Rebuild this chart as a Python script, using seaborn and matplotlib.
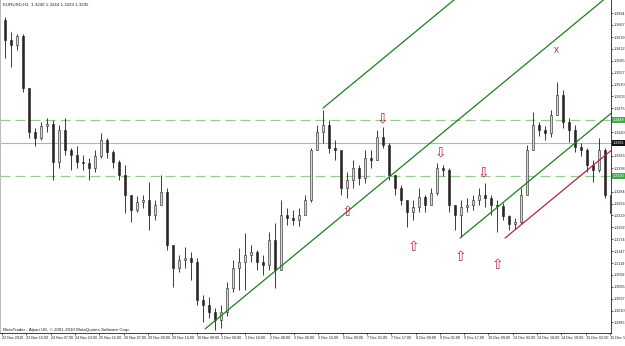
import numpy as np
import pandas as pd
import seaborn as sns
import matplotlib.pyplot as plt
import matplotlib.transforms as mtransforms

# EURUSD H1, every 4 hours
closes = [1.3633, 1.3621, 1.3642, 1.3522, 1.3421, 1.3407, 1.3435, 1.3439, 1.3352, 1.3426,
          1.3380, 1.3368, 1.3352, 1.3350, 1.3338, 1.3366, 1.3403, 1.3375, 1.3352, 1.3322,
          1.3276, 1.3242, 1.3260, 1.3265, 1.3230, 1.3253, 1.3283, 1.3161, 1.3108, 1.3127,
          1.3131, 1.3122, 1.3035, 1.3023, 1.3007, 1.2989, 1.3007, 1.3062, 1.3108, 1.3122,
          1.3138, 1.3145, 1.3122, 1.3115, 1.3173, 1.3104, 1.3230, 1.3223, 1.3219, 1.3230,
          1.3265, 1.3380, 1.3421, 1.3437, 1.3384, 1.3380, 1.3292, 1.3311, 1.3338, 1.3315,
          1.3361, 1.3357, 1.3409, 1.3391, 1.3322, 1.3292, 1.3265, 1.3237, 1.3248, 1.3271,
          1.3253, 1.3281, 1.3338, 1.3334, 1.3253, 1.3230, 1.3248, 1.3253, 1.3265, 1.3276,
          1.3269, 1.3253, 1.3251, 1.3228, 1.3209, 1.3214, 1.3276, 1.3380, 1.3437, 1.3426,
          1.3419, 1.3460, 1.3506, 1.3444, 1.3426, 1.3386, 1.3380, 1.3345, 1.3334, 1.3380,
          1.3276, 1.3235]
highs = [1.3685, 1.3651, 1.3646, 1.3646, 1.3522, 1.3430, 1.3444, 1.3453, 1.3449, 1.3437,
         1.3453, 1.3384, 1.3389, 1.3368, 1.3361, 1.3380, 1.3419, 1.3407, 1.3380, 1.3357,
         1.3345, 1.3276, 1.3274, 1.3276, 1.3306, 1.3265, 1.3322, 1.3292, 1.3161, 1.3138,
         1.3156, 1.3145, 1.3131, 1.3046, 1.3041, 1.3016, 1.3023, 1.3076, 1.3127, 1.3154,
         1.3189, 1.3161, 1.3150, 1.3138, 1.3191, 1.3212, 1.3265, 1.3246, 1.3242, 1.3246,
         1.3276, 1.3384, 1.3437, 1.3472, 1.3449, 1.3403, 1.3380, 1.3329, 1.3357, 1.3345,
         1.3380, 1.3380, 1.3426, 1.3432, 1.3396, 1.3322, 1.3299, 1.3265, 1.3265, 1.3292,
         1.3276, 1.3292, 1.3350, 1.3345, 1.3338, 1.3253, 1.3265, 1.3269, 1.3276, 1.3292,
         1.3304, 1.3276, 1.3265, 1.3258, 1.3230, 1.3223, 1.3292, 1.3391, 1.3467, 1.3444,
         1.3435, 1.3472, 1.3536, 1.3518, 1.3453, 1.3437, 1.3396, 1.3384, 1.3357, 1.3407,
         1.3384, 1.3288]
lows = [1.3591, 1.3570, 1.3610, 1.3513, 1.3407, 1.3389, 1.3403, 1.3421, 1.3311, 1.3338,
        1.3368, 1.3334, 1.3338, 1.3334, 1.3311, 1.3329, 1.3361, 1.3361, 1.3338, 1.3311,
        1.3235, 1.3214, 1.3237, 1.3246, 1.3196, 1.3219, 1.3253, 1.3150, 1.3064, 1.3099,
        1.3108, 1.3081, 1.3023, 1.2984, 1.2993, 1.2966, 1.2970, 1.2998, 1.3053, 1.3058,
        1.3058, 1.3122, 1.3104, 1.3092, 1.3104, 1.3062, 1.3104, 1.3207, 1.3207, 1.3205,
        1.3230, 1.3260, 1.3380, 1.3396, 1.3373, 1.3357, 1.3276, 1.3269, 1.3292, 1.3299,
        1.3304, 1.3338, 1.3357, 1.3384, 1.3311, 1.3276, 1.3253, 1.3202, 1.3219, 1.3237,
        1.3237, 1.3253, 1.3276, 1.3320, 1.3237, 1.3196, 1.3179, 1.3237, 1.3242, 1.3253,
        1.3248, 1.3230, 1.3191, 1.3219, 1.3196, 1.3198, 1.3209, 1.3276, 1.3380, 1.3412,
        1.3403, 1.3409, 1.3460, 1.3430, 1.3398, 1.3375, 1.3366, 1.3329, 1.3306, 1.3329,
        1.3269, 1.3228]
first_open = 1.3679

time_labels = ["22 Nov 2010", "23 Nov 15:00", "24 Nov 07:00", "24 Nov 23:00", "25 Nov 15:00",
               "26 Nov 07:00", "29 Nov 00:00", "29 Nov 16:00", "30 Nov 08:00", "1 Dec 00:00",
               "1 Dec 16:00", "2 Dec 08:00", "3 Dec 00:00", "3 Dec 16:00", "6 Dec 09:00",
               "7 Dec 01:00", "7 Dec 17:00", "8 Dec 09:00", "9 Dec 01:00", "9 Dec 17:00",
               "10 Dec 09:00", "13 Dec 02:00", "13 Dec 18:00", "14 Dec 10:00", "15 Dec 02:00",
               "15 Dec 18:00"]
# scale values that are not hidden behind the price boxes
price_ticks = [1.3694, 1.3667, 1.3639, 1.3612, 1.3585, 1.3557, 1.3530, 1.3503, 1.3475,
               1.3420, 1.3366, 1.3338, 1.3284, 1.3256, 1.3229, 1.3202, 1.3174,
               1.3147, 1.3119, 1.3092, 1.3065, 1.3037, 1.3010, 1.2983]

green_levels = [1.3449, 1.3320]
grey_level = 1.3395

# channel lines (start time in hours, start price), all parallel
slope_t = [133.6, 204.6]
slope_p = [1.2968, 1.3173]
green_start_t = [133.6, 211.2, 301.3]
green_start_p = [1.2968, 1.3476, 1.3177]
red_start_t = 330.9
red_start_p = 1.3177

down_arrow_t = [250.0, 288.2, 316.4]
down_arrow_p = [1.3451, 1.3375, 1.3327]
up_arrow_t = [227.0, 270.4, 301.3, 325.7]
up_arrow_p = [1.3237, 1.3156, 1.3133, 1.3115]
cross_t, cross_p = 364.5, 1.3610

sns.set_theme(style="white")
plt.rcParams['font.family'] = ['Liberation Sans', 'DejaVu Sans']

fig = plt.figure(figsize=(6.25, 3.46), dpi=100)
ax = fig.add_axes([0, 13 / 346, 611 / 625, 333 / 346])
x_min, x_max = -1.32, 400.6
ax.set_xlim(x_min, x_max)
ax.set_ylim(1.29586, 1.37245)

n = len(closes)
df = pd.DataFrame({"open": [first_open] + closes[:-1], "high": highs,
                   "low": lows, "close": closes})
df["t"] = (3 + 6 * np.arange(n)) / 1.52
up = df["close"] >= df["open"]
body_bottom = np.minimum(df["open"], df["close"])
body_h = np.maximum((df["close"] - df["open"]).abs(), 0.00008)

# horizontal levels
for lv in green_levels:
    ax.axhline(lv, color="#8fd08f", lw=0.9, dashes=(8, 4), zorder=1)
ax.axhline(grey_level, color="#b4b4b4", lw=0.8, zorder=1)

# candles
ax.vlines(df["t"], df["low"], df["high"], color="#1c1c1c", lw=0.6, zorder=2)
ax.bar(df["t"][up], body_h[up], bottom=body_bottom[up], width=1.8,
       color="#d4d9d0", edgecolor="#1c1c1c", linewidth=0.4, zorder=3)
ax.bar(df["t"][~up], body_h[~up], bottom=body_bottom[~up], width=1.8,
       color="#3e1d1d", edgecolor="#1c1c1c", linewidth=0.4, zorder=3)

# channel lines
slope = (slope_p[1] - slope_p[0]) / (slope_t[1] - slope_t[0])
for t0, p0 in zip(green_start_t, green_start_p):
    sns.lineplot(x=[t0, x_max], y=[p0, p0 + slope * (x_max - t0)], ax=ax,
                 color="#1f7d1f", lw=0.9, zorder=4)
sns.lineplot(x=[red_start_t, x_max], y=[red_start_p, red_start_p + slope * (x_max - red_start_t)],
             ax=ax, color="#b5234d", lw=0.9, zorder=4)

# arrows and cross
for t, p in zip(down_arrow_t, down_arrow_p):
    ax.text(t, p, "\u21e9", color="#c0284f", fontsize=10, ha="center", va="center",
            family="DejaVu Sans", zorder=5)
for t, p in zip(up_arrow_t, up_arrow_p):
    ax.text(t, p, "\u21e7", color="#c0284f", fontsize=10, ha="center", va="center",
            family="DejaVu Sans", zorder=5)
ax.text(cross_t, cross_p, "x", color="#c0284f", fontsize=7, ha="center", va="center", zorder=5)

# axes styling
ax.spines["top"].set_visible(False)
ax.spines["left"].set_color("#bdbdbd")
ax.spines["left"].set_linewidth(1.5)
ax.spines["right"].set_color("#202020")
ax.spines["right"].set_linewidth(0.6)
ax.spines["bottom"].set_color("#202020")
ax.spines["bottom"].set_linewidth(0.6)

ax.yaxis.tick_right()
ax.set_yticks(price_ticks)
ax.set_yticklabels([f"{p:.4f}" for p in price_ticks])
ax.tick_params(axis="y", right=True, length=1.2, width=0.5, pad=0.6, labelsize=2.7,
               colors="#202020")
ax.set_xticks([16 * i for i in range(len(time_labels))])
ax.set_xticklabels(time_labels, ha="left")
ax.tick_params(axis="x", bottom=True, length=1.5, width=0.5, pad=1.0, labelsize=2.7,
               colors="#202020")
ax.set_xlabel("")
ax.set_ylabel("")
if ax.get_legend():
    ax.get_legend().remove()

# price boxes on the right axis
trans = mtransforms.blended_transform_factory(ax.transAxes, ax.transData)
for lv in green_levels:
    ax.text(1.003, lv, f"{lv:.4f}", transform=trans, fontsize=2.7, color="white",
            va="center", ha="left", clip_on=False, zorder=6,
            bbox=dict(boxstyle="square,pad=0.3", fc="#3cb043", ec="none"))
ax.text(1.003, grey_level, f"{grey_level:.4f}", transform=trans, fontsize=2.7, color="white",
        va="center", ha="left", clip_on=False, zorder=6,
        bbox=dict(boxstyle="square,pad=0.3", fc="#111111", ec="none"))

fig.text(3 / 625, 1 - 5 / 346, "EURUSD,H1  1.3240 1.3244 1.3229 1.3235", fontsize=3.2,
         color="#202020", va="center", ha="left")
fig.text(3 / 625, 1 - 330 / 346,
         "MetaTrader - Alpari UK, \u00a9 2001-2010 MetaQuotes Software Corp.",
         fontsize=3.2, color="#202020", va="center", ha="left")

fig.savefig("out.png", dpi=100, facecolor="white")
